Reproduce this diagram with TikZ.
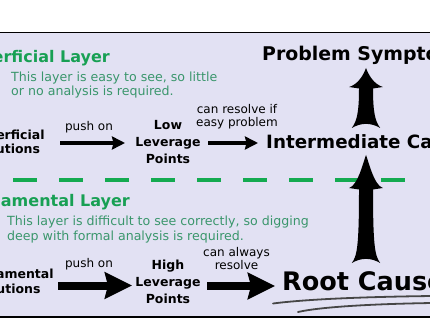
\documentclass[tikz,border=0pt]{standalone}
\usepackage{fontspec}
\setmainfont{DejaVu Sans}
\usetikzlibrary{arrows.meta}
\definecolor{lav}{RGB}{226,225,243}
\definecolor{hgreen}{RGB}{24,160,84}
\definecolor{bgreen}{RGB}{58,150,108}
\definecolor{dgreen}{RGB}{20,170,80}
\definecolor{swoosh}{RGB}{70,70,70}
\tikzset{
  head/.style={inner sep=0pt, text=hgreen, font={\bfseries\fontsize{16}{19}\selectfont}},
  body/.style={inner sep=0pt, text=bgreen, align=left, font={\fontsize{12.6}{14.2}\selectfont}},
  sol/.style={inner sep=0pt, align=center, font={\bfseries\fontsize{12.5}{14.2}\selectfont}},
  lev/.style={inner sep=0pt, align=center, font={\bfseries\fontsize{12.5}{17.3}\selectfont}},
  lab/.style={inner sep=0pt, align=center, font={\fontsize{12}{13.8}\selectfont}},
  big/.style={inner sep=0pt, font={\bfseries\fontsize{18.3}{22}\selectfont}},
  thin arrow/.style={line width=3.5pt, -{Stealth[length=13pt,width=13pt,inset=1.5pt]}},
  thick arrow/.style={line width=8pt, -{Stealth[length=27pt,width=26pt,inset=3pt]}},
  pics/fatup/.style n args={2}{code={
    \fill[black] (-14.2,0) .. controls (-9,-7) and (-7,-16) .. (-7,{-(#1-#2)+1.5})
      -- (-16.8,{-(#1-#2)}) .. controls (-8,{-(#1-#2)-3}) and (-3,{-#1+8}) .. (0,{-#1})
      .. controls (3,{-#1+8}) and (8,{-(#1-#2)-3}) .. (16.8,{-(#1-#2)})
      -- (7,{-(#1-#2)+1.5}) .. controls (7,-16) and (9,-7) .. (14.2,0)
      .. controls (5,-5.5) and (-5,-5.5) .. cycle;
  }}
}
\begin{document}
\begin{tikzpicture}[x=1pt,y=-1pt]
\useasboundingbox (0,0) rectangle (430,320);
\clip (0,0) rectangle (430,320);
\fill[white] (0,0) rectangle (430,320);
\fill[lav] (0,32.5) rectangle (430,317);
\draw[line width=1.7pt] (0,32.5) -- (430,32.5);
\draw[line width=2.2pt] (0,317.2) -- (430,317.2);

% superficial layer
\node[head, anchor=base east] (suphead) at (110,63) {Superficial Layer};
\node[body, anchor=base west] (supbody) at (11,96) {This layer is easy to see, so little\\or no analysis is required.};
\node[sol, anchor=base] (supsol) at (7,154) {Superficial\\Solutions};
\node[lab, anchor=base] (push1) at (89,131) {push on};
\node[lev, anchor=base] (low) at (168,164) {Low\\Leverage\\Points};
\node[lab, anchor=base] (canres) at (237,127) {can resolve if\\easy problem};
\node[big, anchor=base west] (inter) at (266,149) {Intermediate Cause};
\node[big, anchor=base west, font={\bfseries\fontsize{18.9}{22}\selectfont}] (prob) at (262,61) {Problem Symptom};

\coordinate (a1s) at (60,143);
\coordinate (a1e) at (125,143);
\coordinate (a2s) at (208,143);
\coordinate (a2e) at (258,143);
\draw[thin arrow] (a1s) -- (a1e);
\draw[thin arrow] (a2s) -- (a2e);

% divider
\draw[dgreen, line width=4pt, dash pattern=on 24pt off 22pt] (13,180.5) -- (414,180.5);

% fundamental layer
\node[head, anchor=base east] (fundhead) at (130,206) {Fundamental Layer};
\node[body, anchor=base west] (fundbody) at (7,240) {This layer is difficult to see correctly, so digging\\deep with formal analysis is required.};
\node[sol, anchor=base] (fundsol) at (7.5,293) {Fundamental\\Solutions};
\node[lab, anchor=base] (push2) at (89,267) {push on};
\node[lev, anchor=base, font={\bfseries\fontsize{12.5}{17}\selectfont}] (high) at (168,303) {High\\Leverage\\Points};
\node[lab, anchor=base, font={\fontsize{12}{13.5}\selectfont}] (canalw) at (236.5,269.5) {can always\\resolve};
\node[big, anchor=base west, font={\bfseries\fontsize{25.5}{28}\selectfont}] (root) at (282,290) {Root Cause};

\coordinate (a3s) at (58,285.5);
\coordinate (a3e) at (132,285.5);
\coordinate (a4s) at (207,286);
\coordinate (a4e) at (275,286);
\draw[thick arrow] (a3s) -- (a3e);
\draw[thick arrow] (a4s) -- (a4e);

% vertical fat arrows
\coordinate (up1) at (366,128);
\coordinate (up2) at (366,263);
\pic at (up1) {fatup={60}{19}};
\pic at (up2) {fatup={108}{33}};

% underline swooshes
\draw[swoosh, line width=1.8pt, line cap=round] (273,303.5) .. controls (300,300) and (350,297) .. (432,296);
\draw[swoosh, line width=1.8pt, line cap=round] (298,312) .. controls (320,307) and (370,304) .. (432,303);
\end{tikzpicture}
\end{document}
